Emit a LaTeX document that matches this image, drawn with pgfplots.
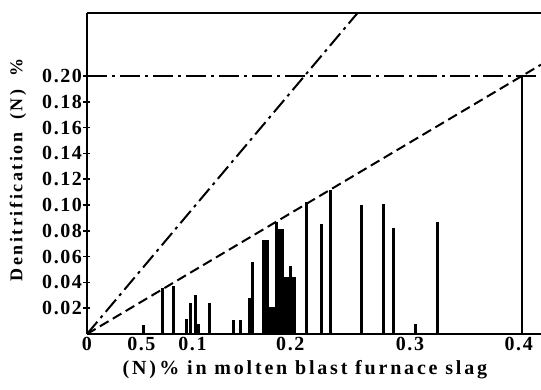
\documentclass[border=0pt]{standalone}
\usepackage{fontspec}
\setmainfont{Liberation Serif}
\usepackage{pgfplots}
\pgfplotsset{compat=1.18}
\newfontfamily\lsfont[LetterSpace=8]{Liberation Serif}
\newfontfamily\lbfont[LetterSpace=14]{Liberation Serif}
\begin{document}
\begin{tikzpicture}
\useasboundingbox (-87pt,-55pt) rectangle (454pt,334pt);
\begin{axis}[
  at={(0,0)}, anchor=south west,
  scale only axis, width=454pt, height=321pt,
  xmin=0, xmax=0.4175, ymin=0, ymax=0.2488,
  axis x line=box, axis y line=left,
  axis line style={-, line width=1.8pt, black},
  clip=true,
  xtick={0,0.05,0.097,0.187,0.297,0.397},
  xticklabels={0,0.5,0.1,0.2,0.3,0.4},
  x tick style={draw=none},
  ytick={0.02,0.04,0.06,0.08,0.10,0.12,0.14,0.16,0.18,0.20},
  yticklabels={0.02,0.04,0.06,0.08,0.10,0.12,0.14,0.16,0.18,0.20},
  y tick style={line width=1.6pt, black},
  major tick length=7pt,
  /pgf/number format/assume math mode=true,
  xticklabel style={font=\lsfont\fontsize{20}{22}\selectfont\bfseries, yshift=0pt},
  yticklabel style={font=\lsfont\fontsize{20}{22}\selectfont\bfseries, xshift=2pt},
  xlabel={(N)\,\% in molten blast furnace slag},
  ylabel={Denitrification\,\, (N)\,\, \%},
  xlabel style={font=\lbfont\fontsize{20}{22}\selectfont\bfseries, at={(axis description cs:0.48,-0.112)}, anchor=center},
  ylabel style={font=\lbfont\fontsize{18}{22}\selectfont\bfseries, at={(axis description cs:-0.152,0.511)}, anchor=center},
]
% reference lines
\addplot[black, line width=2pt, dash pattern=on 16pt off 5pt on 3pt off 5pt] coordinates {(0,0) (0.2488,0.2488)};
\addplot[black, line width=2pt, dash pattern=on 10pt off 5pt] coordinates {(0,0) (0.4175,0.20875)};
\addplot[black, line width=1.8pt, dash pattern=on 20pt off 5pt on 3pt off 5pt] coordinates {(0,0.2) (0.4175,0.2)};
% measured bars
\addplot[ycomb, black, line width=3pt, mark=none] coordinates {
 (0.0515,0.007) (0.0696,0.036) (0.080,0.037)
 (0.0917,0.012) (0.0953,0.024) (0.0999,0.030) (0.1024,0.008)
 (0.1125,0.024) (0.1345,0.011) (0.141,0.011)
 (0.149,0.028) (0.1525,0.056)
 (0.162,0.073) (0.164,0.073) (0.166,0.073)
 (0.168,0.021) (0.170,0.021) (0.172,0.021)
 (0.174,0.087) (0.176,0.081) (0.178,0.081) (0.1795,0.081)
 (0.181,0.0095)
 (0.183,0.044) (0.185,0.044) (0.1875,0.053) (0.189,0.044) (0.1905,0.044)
 (0.2015,0.1026) (0.216,0.085) (0.2235,0.1116)
 (0.2526,0.100) (0.2725,0.101) (0.2823,0.0824)
 (0.302,0.008) (0.322,0.087)
};
\addplot[ycomb, black, line width=2.4pt, mark=none] coordinates {(0.400,0.200)};
\end{axis}
\end{tikzpicture}
\end{document}
